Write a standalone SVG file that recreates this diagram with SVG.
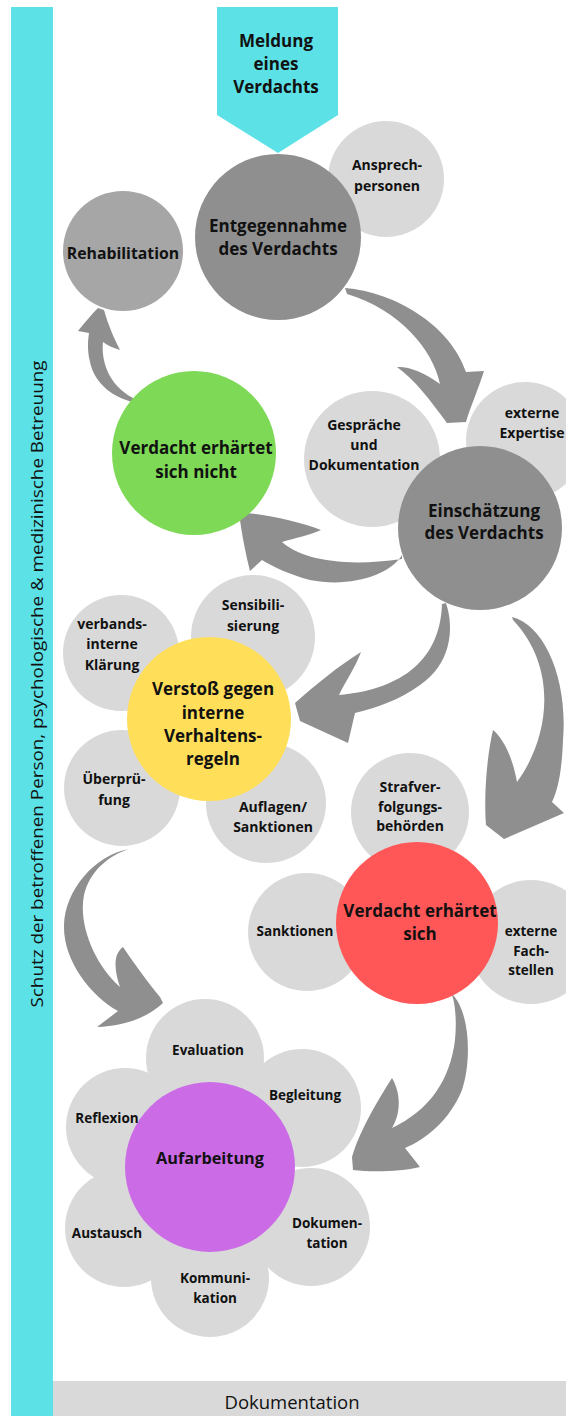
<svg xmlns="http://www.w3.org/2000/svg" width="566" height="1416" viewBox="0 0 566 1416">
<style>
.t{font-family:"Open Sans","Liberation Sans",sans-serif;font-weight:700;fill:#111;text-anchor:middle}
.f13{font-size:13.5px}.f14{font-size:14px}.f15{font-size:15.8px}.f16{font-size:16.3px}.f17{font-size:17px}
.lg{fill:#d9d9d9}.dg{fill:#8f8f8f}.arr{fill:#8f8f8f}
</style>
<rect width="566" height="1416" fill="#ffffff"/>
<g id="side-bar">
<rect x="11" y="7" width="42" height="1409" fill="#5ce1e6"/>
<text transform="rotate(-90 43 684)" x="43" y="684" font-family="'Open Sans','Liberation Sans',sans-serif" font-size="17" fill="#111" text-anchor="middle" textLength="647" lengthAdjust="spacingAndGlyphs">Schutz der betroffenen Person, psychologische &amp; medizinische Betreuung</text>
</g>
<g id="bottom-bar">
<rect x="53" y="1381" width="513" height="35" fill="#d9d9d9"/>
<text x="292" y="1409" font-family="'Open Sans','Liberation Sans',sans-serif" font-size="18.5" fill="#111" text-anchor="middle">Dokumentation</text>
</g>
<g id="connectors">
<path class="arr" d="M345 288 C395 292 450 325 466 372 L484 371 C478 390 470 408 466 422 L447 423 C430 400 415 380 397 367 Q415 366 440 384 C433 350 400 310 347 294 Z"/>
<path class="arr" d="M133 402 C115 398 95 385 90 362 C87 350 88 340 89 333 L78 331 C85 322 92 314 98 308 L104 310 C108 325 115 340 120 350 C113 348 107 345 103 342 C101 360 108 385 133 398 Z"/>
<path class="arr" d="M402 555 C390 575 350 588 310 580 C290 575 272 566 262 560 L250 571 C246 555 242 535 240 520 L246 513 C270 515 300 522 321 530 C310 535 295 538 282 542 C300 558 340 568 402 559 Z"/>
<path class="arr" d="M446 603 C455 630 450 665 420 685 C400 700 375 708 355 713 L348 743 L300 721 L295 703 C315 685 340 665 361 652 C355 668 345 682 339 695 C395 690 440 665 442 604 Z"/>
<path class="arr" d="M512 617 C545 625 568 680 563 740 C562 770 558 790 552 802 L564 813 L504 839 L486 825 C484 800 486 760 493 730 C505 740 513 760 517 782 C548 740 560 670 513 620 Z"/>
<path class="arr" d="M129 849 C95 855 65 890 64 925 C63 960 90 995 118 1011 L97 1027 C120 1026 145 1020 163 1003 L160 997 C150 985 135 965 123 947 C112 955 115 972 120 987 C95 965 78 925 84 895 C90 870 110 855 129 849 Z"/>
<path class="arr" d="M451 993 C470 1010 472 1060 462 1090 C450 1120 425 1140 405 1148 L420 1167 C400 1172 370 1172 353 1170 L352 1157 C360 1130 378 1100 392 1078 C402 1095 400 1115 392 1128 C430 1110 450 1080 455 1040 C457 1020 455 1000 451 993 Z"/>
</g>
<g id="meldung">
<path d="M217 7 H338 V115 L278 153 L217 115 Z" fill="#5ce1e6"/>
<text class="t f17" x="276" y="47">Meldung</text>
<text class="t f17" x="276" y="70">eines</text>
<text class="t f17" x="276" y="93">Verdachts</text>
</g>
<g id="ansprechpersonen">
<circle class="lg" cx="386" cy="179" r="58"/>
<text class="t f14" x="387" y="170">Ansprech-</text>
<text class="t f14" x="387" y="191">personen</text>
</g>
<g id="entgegennahme">
<circle class="dg" cx="278" cy="237" r="83"/>
<text class="t f17" x="278" y="232">Entgegennahme</text>
<text class="t f17" x="278" y="255">des Verdachts</text>
</g>
<g id="rehabilitation">
<circle cx="123" cy="251" r="60" fill="#a6a6a6"/>
<text class="t f15" x="123" y="259">Rehabilitation</text>
</g>
<g id="nicht-erhaertet">
<circle cx="194" cy="453" r="82" fill="#7ed957"/>
<text class="t f17" x="196" y="454">Verdacht erhärtet</text>
<text class="t f17" x="196" y="478">sich nicht</text>
</g>
<g id="gespraeche">
<circle class="lg" cx="372" cy="459" r="68"/>
<text class="t f14" x="364" y="430">Gespräche</text>
<text class="t f14" x="364" y="450">und</text>
<text class="t f14" x="364" y="470">Dokumentation</text>
</g>
<g id="externe-expertise">
<circle class="lg" cx="525" cy="441" r="59"/>
<text class="t f14" x="532" y="418">externe</text>
<text class="t f14" x="532" y="438">Expertise</text>
</g>
<g id="einschaetzung">
<circle class="dg" cx="480" cy="528" r="82"/>
<text class="t f17" x="484" y="517">Einschätzung</text>
<text class="t f17" x="484" y="539">des Verdachts</text>
</g>
<g id="verbandsinterne-klaerung">
<circle class="lg" cx="121" cy="653" r="58"/>
<text class="t f14" x="112" y="629">verbands-</text>
<text class="t f14" x="112" y="649">interne</text>
<text class="t f14" x="112" y="670">Klärung</text>
</g>
<g id="sensibilisierung">
<circle class="lg" cx="253" cy="637" r="62"/>
<text class="t f14" x="253" y="610">Sensibili-</text>
<text class="t f14" x="253" y="631">sierung</text>
</g>
<g id="ueberpruefung">
<circle class="lg" cx="122" cy="788" r="58"/>
<text class="t f14" x="114" y="784">Überprü-</text>
<text class="t f14" x="114" y="805">fung</text>
</g>
<g id="auflagen">
<circle class="lg" cx="266" cy="803" r="60"/>
<text class="t f14" x="273" y="812">Auflagen/</text>
<text class="t f14" x="273" y="832">Sanktionen</text>
</g>
<g id="verstoss">
<circle cx="209" cy="719" r="82" fill="#ffde59"/>
<text class="t f17" x="213" y="695">Verstoß gegen</text>
<text class="t f17" x="213" y="719">interne</text>
<text class="t f17" x="213" y="742">Verhaltens-</text>
<text class="t f17" x="213" y="765">regeln</text>
</g>
<g id="strafverfolgung">
<circle class="lg" cx="410" cy="812" r="59"/>
<text class="t f14" x="410" y="792">Strafver-</text>
<text class="t f14" x="410" y="812">folgungs-</text>
<text class="t f14" x="410" y="831">behörden</text>
</g>
<g id="sanktionen">
<circle class="lg" cx="307" cy="932" r="59"/>
<text class="t f13" x="295" y="936">Sanktionen</text>
</g>
<g id="externe-fachstellen">
<circle class="lg" cx="531" cy="942" r="62"/>
<text class="t f13" x="531" y="936">externe</text>
<text class="t f13" x="531" y="956">Fach-</text>
<text class="t f13" x="531" y="975">stellen</text>
</g>
<g id="erhaertet">
<circle cx="417" cy="923" r="81" fill="#ff5757"/>
<text class="t f17" x="420" y="917">Verdacht erhärtet</text>
<text class="t f17" x="420" y="940">sich</text>
</g>
<g id="aufarbeitung">
<circle class="lg" cx="205" cy="1058" r="59"/>
<circle class="lg" cx="302" cy="1108" r="59"/>
<circle class="lg" cx="125" cy="1127" r="59"/>
<circle class="lg" cx="124" cy="1228" r="59"/>
<circle class="lg" cx="210" cy="1278" r="59"/>
<circle class="lg" cx="311" cy="1227" r="59"/>
<circle cx="210" cy="1167" r="85" fill="#cb6ce6"/>
<text class="t f13" x="208" y="1055">Evaluation</text>
<text class="t f13" x="305" y="1100">Begleitung</text>
<text class="t f13" x="107" y="1123">Reflexion</text>
<text class="t f13" x="107" y="1238">Austausch</text>
<text class="t f13" x="327" y="1228">Dokumen-</text>
<text class="t f13" x="327" y="1248">tation</text>
<text class="t f13" x="215" y="1283">Kommuni-</text>
<text class="t f13" x="215" y="1303">kation</text>
<text class="t f16" x="210" y="1164">Aufarbeitung</text>
</g>
</svg>
